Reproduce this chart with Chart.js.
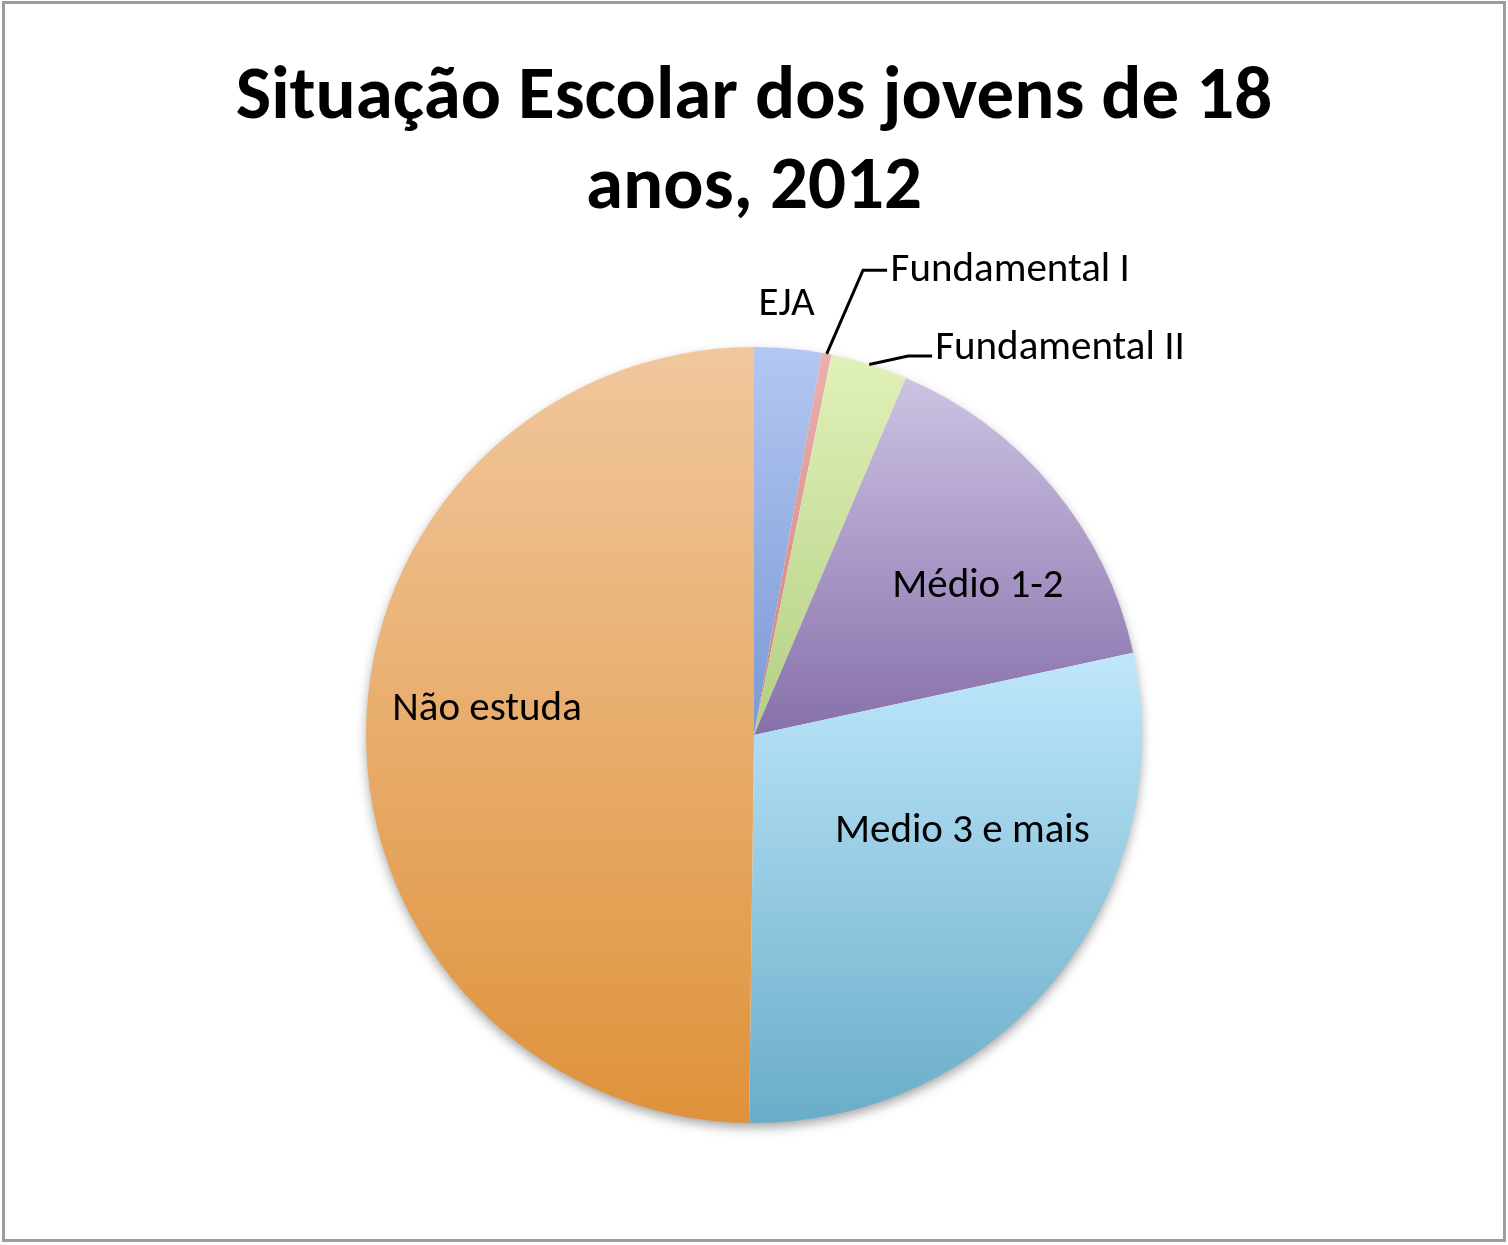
<!DOCTYPE html>
<html>
<head>
<meta charset="utf-8">
<script src="https://cdn.jsdelivr.net/npm/chart.js@4/dist/chart.umd.min.js"></script>
<style>
  html, body { margin: 0; padding: 0; background: #ffffff; }
  #wrap { position: absolute; left: 0; top: 0; width: 1508px; height: 1245px; }
  canvas { display: block; }
</style>
</head>
<body>
<div id="wrap"><canvas id="c" width="1508" height="1245"></canvas></div>
<script>
// ---- data ----
const categories = ['EJA', 'Fundamental I', 'Fundamental II', 'Médio 1-2', 'Medio 3 e mais', 'Não estuda'];
const values = [2.8, 0.4, 3.2, 15.2, 28.6, 49.8];
const titleLines = ['Situação Escolar dos jovens de 18', 'anos, 2012'];

// ---- styles ----
const topColors    = ['#b3c7f2', '#eab0ae', '#e1f1b8', '#cdc2e3', '#bfe7fb', '#f1c79d'];
const bottomColors = ['#7a99d4', '#cf7f7c', '#b3cf84', '#8670aa', '#6aadc9', '#df923a'];
const FONT = 'Carlito, Calibri, Lato, sans-serif';

// label layout, in units of the pie radius, relative to the pie centre
const labelLayout = [
  { dx: 0.084, dy: -1.082, align: 'center' },
  { dx: 0.352, dy: -1.170, align: 'left', elbow: [0.281, -1.198], end: [0.343, -1.198] },
  { dx: 0.467, dy: -0.970, align: 'left', elbow: [0.397, -0.977], end: [0.459, -0.977] },
  { dx: 0.577, dy: -0.356, align: 'center' },
  { dx: 0.537, dy: 0.276, align: 'center' },
  { dx: -0.688, dy: -0.039, align: 'center' }
];

function sliceGradient(c) {
  const i = c.dataIndex;
  const chart = c.chart;
  const area = chart.chartArea;
  if (!area || i === undefined) return topColors[i || 0];
  const vals = chart.data.datasets[0].data;
  const total = vals.reduce((a, b) => a + b, 0);
  let before = 0;
  for (let k = 0; k < i; k++) before += vals[k];
  const a0 = -Math.PI / 2 + 2 * Math.PI * before / total;
  const a1 = a0 + 2 * Math.PI * vals[i] / total;
  const cy = (area.top + area.bottom) / 2;
  const r = Math.min(area.width, area.height) / 2;
  const ys = [cy, cy + r * Math.sin(a0), cy + r * Math.sin(a1)];
  [-Math.PI / 2, Math.PI / 2, 3 * Math.PI / 2].forEach(a => {
    if (a >= a0 && a <= a1) ys.push(cy + r * Math.sin(a));
  });
  const y0 = Math.min(...ys), y1 = Math.max(...ys);
  const g = chart.ctx.createLinearGradient(0, y0, 0, y1 + 0.01);
  g.addColorStop(0, topColors[i]);
  g.addColorStop(1, bottomColors[i]);
  return g;
}

const framePlugin = {
  id: 'frame',
  beforeDraw(chart) {
    const ctx = chart.ctx;
    ctx.save();
    ctx.fillStyle = '#ffffff';
    ctx.fillRect(0, 0, chart.width, chart.height);
    ctx.restore();
  },
  afterDraw(chart) {
    const ctx = chart.ctx;
    ctx.save();
    ctx.strokeStyle = '#9d9d9d';
    ctx.lineWidth = 3;
    ctx.strokeRect(3.5, 2.5, chart.width - 7, chart.height - 7);
    ctx.restore();
  }
};

const shadowPlugin = {
  id: 'pieShadow',
  beforeDatasetsDraw(chart) {
    const arc = chart.getDatasetMeta(0).data[0];
    if (!arc) return;
    const p = arc.getProps(['x', 'y', 'outerRadius'], true);
    const ctx = chart.ctx;
    ctx.save();
    ctx.shadowColor = 'rgba(0,0,0,0.38)';
    ctx.shadowBlur = 12;
    ctx.shadowOffsetY = 5;
    ctx.fillStyle = '#ffffff';
    ctx.beginPath();
    ctx.arc(p.x, p.y, p.outerRadius - 1, 0, Math.PI * 2);
    ctx.fill();
    ctx.restore();
  }
};

const labelPlugin = {
  id: 'sliceLabels',
  afterDatasetsDraw(chart) {
    const ctx = chart.ctx;
    const meta = chart.getDatasetMeta(0);
    ctx.save();
    ctx.fillStyle = '#000000';
    ctx.strokeStyle = '#000000';
    ctx.lineWidth = 3;
    ctx.font = '41px ' + FONT;
    ctx.textBaseline = 'alphabetic';
    meta.data.forEach((arc, i) => {
      const p = arc.getProps(['x', 'y', 'outerRadius', 'startAngle', 'endAngle'], true);
      const R = p.outerRadius;
      const L = labelLayout[i];
      if (L.elbow) {
        const mid = (p.startAngle + p.endAngle) / 2;
        ctx.beginPath();
        ctx.moveTo(p.x + R * Math.cos(mid), p.y + R * Math.sin(mid));
        ctx.lineTo(p.x + L.elbow[0] * R, p.y + L.elbow[1] * R);
        ctx.lineTo(p.x + L.end[0] * R, p.y + L.end[1] * R);
        ctx.stroke();
      }
      ctx.textAlign = L.align;
      ctx.fillText(chart.data.labels[i], p.x + L.dx * R, p.y + L.dy * R);
    });
    ctx.restore();
  }
};

new Chart(document.getElementById('c'), {
  type: 'pie',
  data: {
    labels: categories,
    datasets: [{
      data: values,
      backgroundColor: sliceGradient,
      borderWidth: 0,
      hoverBorderWidth: 0,
      hoverOffset: 0,
      offset: 0
    }]
  },
  options: {
    responsive: false,
    animation: false,
    events: [],
    layout: { padding: { left: 20, right: 20, top: 0, bottom: 122 } },
    plugins: {
      legend: { display: false },
      tooltip: { enabled: false },
      title: {
        display: true,
        text: titleLines,
        color: '#000000',
        font: { family: FONT, size: 75, weight: 'bold', lineHeight: 90 / 75 },
        padding: { top: 54.5, bottom: 112.5 }
      }
    }
  },
  plugins: [framePlugin, shadowPlugin, labelPlugin]
});
</script>
</body>
</html>
